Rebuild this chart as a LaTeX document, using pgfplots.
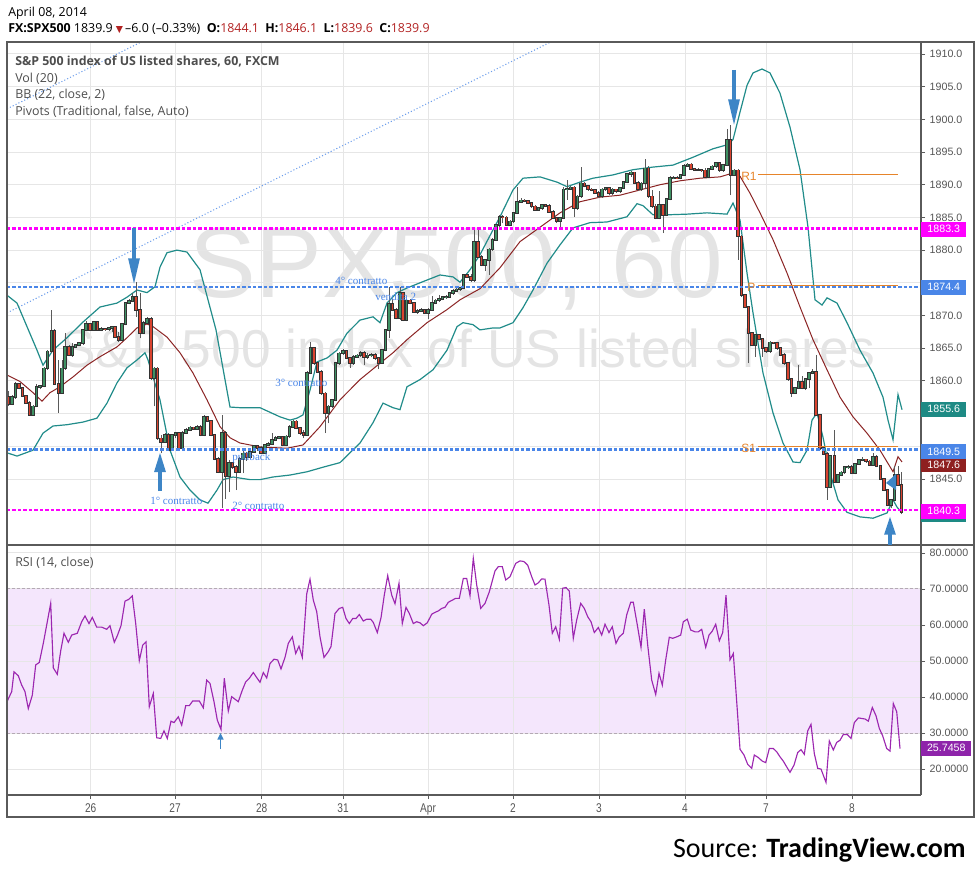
\documentclass[border=0pt]{standalone}
\usepackage{pgfplots}
\pgfplotsset{compat=1.18}
\usepackage{pgfplotstable}
\usepackage{fontspec}
\setmainfont{Open Sans}
\newfontfamily\arialfont{Liberation Sans}
\newfontfamily\narrowfont[FakeStretch=0.8]{Liberation Sans}
\newfontfamily\serifann{Liberation Serif}
\newfontfamily\calfont{Carlito}
\newfontfamily\symfont{DejaVu Sans}
\usetikzlibrary{arrows.meta}

\definecolor{gridc}{HTML}{E6E6E6}
\definecolor{framec}{HTML}{5A5A5A}
\definecolor{tickc}{HTML}{555555}
\definecolor{legc}{HTML}{4D4D4D}
\definecolor{upfill}{HTML}{3E9163}
\definecolor{downfill}{HTML}{D9432F}
\definecolor{candleout}{HTML}{333333}
\definecolor{wickc}{HTML}{5A5A5A}
\definecolor{bbc}{HTML}{218C8A}
\definecolor{smac}{HTML}{8B2424}
\definecolor{magc}{HTML}{FF00FF}
\definecolor{bluec}{HTML}{4A86E8}
\definecolor{pivc}{HTML}{E6842A}
\definecolor{rsic}{HTML}{9C27B0}
\definecolor{rsiband}{HTML}{F4E6FC}
\definecolor{rsidash}{HTML}{B4A8B4}
\definecolor{arrowc}{HTML}{3D85C6}
\definecolor{wmc}{HTML}{E4E4E4}
\definecolor{hdrred}{HTML}{B22222}
\definecolor{dotc}{HTML}{6D9EEB}
\definecolor{tealbox}{HTML}{1E8A84}
\definecolor{redbox}{HTML}{8E2020}
\definecolor{purpbox}{HTML}{8E24AA}

\pgfplotstableread{
x o h l c
8 1857.6 1858.4 1856.2 1856.5
12 1856.5 1857.9 1856.3 1857.6
15.5 1857.6 1859.9 1857.3 1859.5
19 1859.5 1859.7 1858.7 1858.9
22.5 1858.9 1859.0 1857.6 1857.7
26 1857.7 1857.9 1856.5 1856.6
29.5 1856.6 1857.0 1854.7 1854.8
33 1854.8 1856.3 1854.7 1856.1
36.5 1856.1 1859.6 1856.0 1859.1
40 1859.1 1859.4 1858.7 1859.2
44 1859.2 1862.2 1859.0 1861.9
47.5 1861.9 1864.7 1861.7 1864.5
51.5 1864.5 1870.9 1864.2 1867.6
54.5 1867.6 1867.9 1859.4 1859.5
58.5 1859.5 1863.2 1855.1 1858.2
62 1858.2 1863.2 1858.0 1861.9
65 1861.9 1867.4 1861.7 1865.2
69 1865.2 1865.5 1863.8 1864.0
72.5 1864.0 1865.8 1863.7 1865.2
75.5 1865.2 1865.7 1865.1 1865.5
79 1865.5 1865.9 1865.3 1865.8
83 1865.8 1868.0 1865.5 1867.8
86 1867.8 1869.1 1867.6 1868.7
90 1868.7 1868.9 1867.7 1867.8
94 1867.8 1869.2 1867.7 1869.0
97.5 1869.0 1869.2 1867.7 1867.8
101 1867.8 1868.2 1867.6 1868.0
105 1868.0 1868.1 1867.7 1867.9
109 1867.9 1868.3 1867.7 1868.1
112 1868.1 1868.3 1867.5 1868.2
115 1868.2 1868.3 1866.5 1866.7
118.5 1866.7 1867.5 1866.0 1866.3
122 1866.3 1868.9 1866.2 1868.7
125.5 1868.7 1872.1 1868.5 1871.9
129 1871.9 1872.5 1871.7 1872.2
132.5 1872.2 1873.4 1872.0 1872.9
136 1872.9 1875.2 1869.8 1870.9
140 1870.9 1873.4 1866.5 1867.4
143.5 1867.4 1869.1 1867.2 1868.9
147 1868.9 1869.8 1868.7 1869.5
151 1869.5 1869.7 1860.2 1860.4
154 1860.4 1862.2 1856.1 1861.9
157.5 1861.9 1862.1 1851.0 1851.2
161 1851.2 1851.7 1848.9 1850.7
165 1850.7 1852.0 1850.5 1851.8
168.5 1851.8 1852.0 1849.3 1849.5
172 1849.5 1851.9 1849.3 1851.7
175.5 1851.7 1852.2 1851.2 1852.0
179 1852.0 1852.2 1849.5 1849.7
182.5 1849.7 1852.3 1849.5 1852.1
186 1852.1 1852.8 1851.9 1852.5
190 1852.5 1853.1 1852.3 1852.9
193.5 1852.9 1853.0 1852.5 1852.7
197 1852.7 1853.3 1852.5 1853.0
200.5 1853.0 1853.2 1851.5 1851.7
204 1851.7 1854.8 1851.5 1854.5
207.5 1854.5 1854.7 1853.7 1853.9
211 1853.9 1854.0 1851.5 1851.7
214.5 1851.7 1851.9 1847.9 1848.1
218 1848.1 1848.3 1845.9 1846.1
222 1846.1 1854.8 1840.5 1852.1
225.5 1852.1 1852.3 1842.0 1845.4
229 1845.4 1847.9 1843.0 1847.4
232.5 1847.4 1847.6 1846.5 1846.9
236 1846.9 1847.1 1843.3 1846.1
239.5 1846.1 1848.3 1845.9 1848.1
243 1848.1 1849.6 1845.9 1848.9
246.5 1848.9 1849.2 1847.8 1848.3
250 1848.3 1849.5 1848.0 1849.2
254 1849.2 1850.2 1849.0 1850.0
257.5 1850.0 1850.2 1849.3 1849.8
261 1849.8 1850.0 1848.8 1849.0
265 1849.0 1850.4 1848.8 1850.2
268 1850.2 1850.6 1850.0 1850.4
272 1850.4 1852.0 1850.2 1851.0
275.5 1851.0 1851.5 1850.8 1851.3
279 1851.3 1851.6 1851.1 1851.4
282.5 1851.4 1851.6 1850.0 1850.2
286 1850.2 1851.7 1850.0 1851.5
289.5 1851.5 1853.2 1851.3 1853.0
293 1853.0 1854.0 1852.8 1853.8
296 1853.8 1854.0 1852.6 1852.8
300 1852.8 1853.0 1851.8 1852.0
303.5 1852.0 1852.5 1851.2 1851.8
307 1851.8 1861.5 1851.5 1861.2
310.5 1861.2 1865.9 1861.0 1865.0
314 1865.0 1865.2 1862.5 1862.7
317.5 1862.7 1862.9 1861.2 1861.4
321 1861.4 1861.6 1857.9 1858.1
325 1858.1 1858.3 1852.0 1855.1
328.5 1855.1 1856.3 1853.5 1856.1
332 1856.1 1857.3 1855.9 1857.1
335.5 1857.1 1862.9 1856.9 1862.7
339 1862.7 1864.4 1862.5 1864.2
343 1864.2 1864.9 1864.0 1864.6
346.5 1864.6 1864.8 1863.3 1863.5
350 1863.5 1863.7 1862.0 1862.7
353.5 1862.7 1863.9 1862.5 1863.7
357 1863.7 1864.1 1863.5 1863.9
360.5 1863.9 1864.5 1863.7 1864.3
364 1864.3 1864.5 1862.5 1863.7
367.5 1863.7 1864.3 1863.3 1863.9
371 1863.9 1864.3 1863.6 1864.0
375 1864.0 1864.2 1863.2 1863.5
378.5 1863.5 1863.7 1861.8 1862.8
382 1862.8 1864.9 1862.6 1864.7
385.5 1864.7 1868.0 1864.5 1867.8
389 1867.8 1874.4 1866.5 1871.8
392.5 1871.8 1872.6 1870.7 1870.9
396 1870.9 1871.1 1869.4 1869.6
400 1869.6 1874.4 1869.3 1873.4
403 1873.4 1873.6 1869.1 1869.3
406.5 1869.3 1872.5 1869.1 1872.3
410 1872.3 1872.5 1871.7 1871.9
414 1871.9 1872.1 1870.4 1870.6
417.5 1870.6 1871.0 1870.3 1870.7
421 1870.7 1871.1 1870.5 1870.8
424.5 1870.8 1871.0 1870.2 1870.4
428 1870.4 1871.2 1869.4 1870.9
432 1870.9 1873.0 1870.7 1871.9
435.5 1871.9 1872.5 1871.7 1872.3
439 1872.3 1873.2 1872.1 1872.5
442.5 1872.5 1873.0 1872.3 1872.8
446 1872.8 1873.1 1872.6 1872.9
449.5 1872.9 1873.6 1872.7 1873.4
453 1873.4 1874.0 1873.2 1873.8
456.5 1873.8 1874.5 1873.6 1874.0
460 1874.0 1874.4 1873.8 1874.2
463.5 1874.2 1876.4 1874.0 1876.2
467 1876.2 1876.4 1875.7 1875.9
471 1875.9 1876.4 1875.2 1875.4
474 1875.4 1883.1 1875.2 1881.3
478 1881.3 1883.3 1878.8 1879.0
481.5 1879.0 1879.2 1877.5 1877.7
485 1877.7 1878.7 1876.8 1878.5
489 1878.5 1880.3 1876.2 1880.1
492.5 1880.1 1881.8 1879.9 1881.6
496 1881.6 1884.0 1881.4 1883.8
499.5 1883.8 1885.3 1883.6 1885.1
502.7 1885.1 1885.4 1884.1 1885.0
506.5 1885.0 1885.2 1883.7 1883.9
510 1883.9 1884.6 1883.7 1884.4
513.5 1884.4 1885.9 1884.2 1885.7
517 1885.7 1889.7 1885.5 1887.4
521 1887.4 1887.9 1887.2 1887.6
524.5 1887.6 1887.8 1887.3 1887.5
528 1887.5 1887.7 1887.0 1887.2
531.5 1887.2 1887.4 1886.5 1886.7
535 1886.7 1886.9 1886.0 1886.2
538.5 1886.2 1886.6 1886.0 1886.4
542 1886.4 1887.1 1886.2 1886.9
545.5 1886.9 1887.0 1886.6 1886.8
549 1886.8 1887.0 1885.7 1885.9
553 1885.9 1886.1 1884.7 1884.9
556.5 1884.9 1885.1 1884.2 1884.4
560 1884.4 1885.1 1883.3 1884.9
563.5 1884.9 1889.7 1884.7 1889.3
567 1889.3 1890.7 1887.7 1889.4
570.5 1889.4 1889.8 1889.2 1889.6
574 1889.6 1889.8 1885.1 1886.4
577.5 1886.4 1888.4 1886.2 1888.2
581 1888.2 1892.7 1888.0 1890.2
584.5 1890.2 1890.4 1889.6 1889.8
588 1889.8 1890.0 1889.1 1889.3
591.5 1889.3 1889.5 1889.0 1889.2
595 1889.2 1889.4 1888.6 1888.8
598.5 1888.8 1889.0 1888.0 1888.2
602 1888.2 1889.5 1888.0 1889.3
605.5 1889.3 1889.7 1889.1 1889.5
609 1889.5 1889.6 1888.5 1888.7
612.5 1888.7 1889.5 1888.5 1889.3
616 1889.3 1889.4 1888.8 1889.0
620 1889.0 1889.7 1888.8 1889.5
623.5 1889.5 1890.6 1889.3 1890.4
627 1890.4 1891.8 1890.2 1891.6
631 1891.6 1892.1 1891.2 1891.9
634.5 1891.9 1892.0 1890.1 1890.3
638 1890.3 1890.5 1889.1 1889.3
641.5 1889.3 1890.4 1889.1 1890.2
645 1890.2 1893.9 1889.3 1892.5
648.5 1892.5 1892.8 1888.0 1888.2
652 1888.2 1889.2 1886.5 1886.7
655.5 1886.7 1887.0 1884.7 1884.9
659 1884.9 1889.0 1884.7 1886.9
663 1886.9 1887.1 1882.6 1885.4
666.5 1885.4 1888.0 1885.2 1887.8
670 1887.8 1891.3 1887.6 1891.0
673.5 1891.0 1891.3 1890.8 1891.1
677 1891.1 1891.3 1890.8 1891.0
680.5 1891.0 1891.7 1890.8 1891.5
684 1891.5 1893.1 1891.3 1892.9
687.5 1892.9 1893.3 1892.7 1893.1
691 1893.1 1893.3 1892.2 1892.4
694.5 1892.4 1892.5 1892.1 1892.3
698 1892.3 1892.5 1892.1 1892.3
701.5 1892.3 1892.4 1892.0 1892.2
705 1892.2 1892.6 1891.0 1891.2
708.5 1891.2 1892.6 1891.0 1892.4
712 1892.4 1893.0 1892.2 1892.8
716 1892.8 1893.5 1892.6 1893.3
719.5 1893.3 1893.5 1892.0 1892.2
723 1892.2 1893.2 1892.0 1893.0
727 1893.0 1898.5 1892.8 1896.9
730.5 1896.9 1899.1 1888.4 1891.5
734 1891.5 1892.4 1891.3 1892.2
738 1892.2 1892.4 1878.5 1882.1
741.5 1882.1 1882.3 1872.9 1873.1
745 1873.1 1873.3 1871.1 1871.3
748.5 1871.3 1871.5 1862.7 1867.3
752 1867.3 1867.5 1865.3 1865.5
755.5 1865.5 1867.2 1863.7 1867.0
759 1867.0 1867.2 1866.2 1866.4
762.5 1866.4 1866.6 1863.7 1865.0
766 1865.0 1865.2 1864.3 1864.5
770 1864.5 1866.1 1864.3 1865.9
773.5 1865.9 1866.0 1865.6 1865.8
777 1865.8 1866.0 1864.8 1865.0
780.5 1865.0 1865.2 1863.8 1864.0
784 1864.0 1864.2 1862.5 1862.7
788 1862.7 1862.9 1860.0 1860.3
791.5 1860.3 1860.5 1857.6 1858.2
795 1858.2 1859.1 1858.0 1858.9
798.5 1858.9 1862.4 1858.7 1859.9
802 1859.9 1860.7 1858.7 1858.9
805.5 1858.9 1860.5 1858.6 1860.3
809 1860.3 1861.4 1858.9 1861.2
812.5 1861.2 1861.8 1861.0 1861.4
816 1861.4 1864.0 1854.6 1854.8
820 1854.8 1855.0 1849.4 1849.7
823.5 1849.7 1849.9 1848.6 1848.8
827 1848.8 1849.2 1841.8 1843.8
830 1843.8 1848.7 1843.6 1848.5
834.5 1848.5 1852.5 1844.4 1844.6
838 1844.6 1845.8 1844.4 1845.6
841 1845.6 1846.2 1845.4 1846.0
844.5 1846.0 1847.0 1845.8 1846.8
848 1846.8 1847.1 1846.6 1846.9
851.5 1846.9 1847.1 1845.7 1845.9
855 1845.9 1847.5 1845.7 1847.3
859 1847.3 1848.1 1847.1 1847.9
862.5 1847.9 1848.4 1847.7 1848.0
866 1848.0 1848.1 1847.5 1847.7
869.5 1847.7 1847.9 1847.0 1847.2
873 1847.2 1848.9 1847.0 1848.4
876.5 1848.4 1848.6 1846.8 1847.0
880.5 1847.0 1847.2 1844.8 1845.0
884 1845.0 1845.2 1843.1 1843.3
887.5 1843.3 1843.5 1840.8 1841.0
891 1841.0 1842.0 1840.5 1841.8
894.5 1841.8 1847.0 1841.6 1845.6
898 1845.6 1847.0 1843.9 1844.1
901.5 1844.1 1846.1 1839.6 1839.9
}\candles

\pgfplotsset{
  panel/.style={
    scale only axis, width=685.5pt, xmin=7, xmax=921, anchor=south west,
    axis line style={draw=none},
    grid=major, major grid style={draw=gridc, line width=0.7pt},
    tick align=outside, major tick length=3pt,
    ytick pos=right, yticklabel pos=right,
    tick style={draw=framec, line width=0.6pt},
    xtick={90.7,175,261.7,343,428,513,599,685,766,852},
    y tick label style={font=\arialfont\fontsize{8}{9}\selectfont, text=tickc,
      /pgf/number format/assume math mode=true, /pgf/number format/1000 sep={},
      /pgf/number format/fixed, /pgf/number format/fixed zerofill},
  },
  candlebase/.style={draw=none, mark=none, forget plot},
}

\begin{document}
\begin{tikzpicture}
\begin{scope}[x=0.75pt,y=-0.75pt]
\path (0,0) rectangle (980,874);
\node[anchor=base, text=wmc, inner sep=0pt] at (456,297) {\arialfont\fontsize{75}{75}\selectfont SPX500, 60};
\node[anchor=base, text=wmc, inner sep=0pt] at (468,367) {\arialfont\fontsize{40}{40}\selectfont S\&P 500 index of US listed shares};
\end{scope}

% ---------------- price panel ----------------
\begin{axis}[panel, at={(5.25pt,-408.75pt)}, height=377.25pt,
  ymin=1834.9, ymax=1911.83, ytick={1845,1850,...,1910},
  yticklabels={1845.0,,,1860.0,1865.0,1870.0,,1880.0,1885.0,1890.0,1895.0,1900.0,1905.0,1910.0},
  xticklabels={}, xtick style={draw=none}]

\addplot[dotc, line width=0.8pt, dash pattern=on 0.8pt off 1.6pt] coordinates {(7,1870.4) (560,1912.54)};
\addplot[dotc, line width=0.8pt, dash pattern=on 0.8pt off 1.6pt] coordinates {(7,1901.6) (160,1913.26)};

% Bollinger bands (22, close, 2)
\addplot[bbc, line width=0.9pt] coordinates {(7,1873.1) (17,1871.9) (27,1868.3) (37,1864.7) (43,1862.4) (53,1864.7) (67,1866.6) (83,1869.0) (100,1871.3) (117,1871.9) (127,1872.8) (137,1873.9) (147,1873.5) (155,1874.4) (160,1877.4) (167,1879.6) (177,1880.0) (187,1879.7) (200,1877.0) (208,1872.4) (216,1867.8) (225,1860.2) (230,1856.0) (240,1855.9) (260,1855.9) (280,1854.5) (290,1854.0) (297,1854.3) (303,1854.8) (310,1858.6) (317,1862.9) (327,1863.5) (337,1864.7) (347,1867.3) (360,1869.3) (373,1869.8) (380,1868.9) (387,1871.9) (397,1873.5) (407,1874.2) (420,1875.0) (440,1876.2) (453,1875.9) (460,1875.1) (470,1877.0) (480,1879.3) (493,1883.1) (500,1885.1) (513,1889.2) (523,1891.0) (540,1891.2) (557,1890.4) (567,1889.7) (580,1890.4) (593,1891.0) (613,1891.5) (633,1892.3) (653,1892.7) (673,1893.0) (693,1894.2) (713,1895.5) (727,1896.1) (733,1896.9) (740,1901.1) (747,1905.2) (753,1907.1) (762,1907.7) (770,1907.1) (780,1904.0) (790,1898.8) (800,1892.3) (808,1883.5) (815,1872.4) (822,1871.6) (827,1872.7) (837,1871.9) (847,1868.9) (860,1864.7) (873,1861.2) (883,1857.5) (888,1854.0) (893,1851.0) (898,1857.9) (902,1855.6)};
\addplot[smac, line width=0.75pt] coordinates {(7,1860.9) (20,1859.9) (33,1858.2) (42,1856.9) (50,1858.2) (60,1859.1) (73,1860.6) (87,1862.4) (100,1863.7) (117,1865.2) (127,1866.6) (137,1868.1) (147,1868.7) (153,1868.3) (167,1866.7) (180,1864.3) (193,1861.2) (207,1857.1) (220,1853.0) (230,1851.3) (240,1850.5) (260,1849.9) (287,1849.7) (303,1850.2) (320,1853.0) (340,1857.1) (360,1860.2) (380,1862.7) (393,1864.3) (407,1866.3) (427,1868.9) (447,1870.9) (460,1872.4) (480,1874.1) (500,1877.3) (520,1881.3) (540,1883.5) (560,1885.7) (580,1887.4) (600,1888.1) (620,1888.4) (640,1889.2) (660,1890.0) (680,1890.6) (700,1891.0) (720,1891.2) (733,1891.8) (740,1891.3) (750,1888.7) (760,1885.7) (773,1881.6) (787,1876.5) (800,1871.3) (813,1866.3) (827,1861.7) (840,1857.5) (853,1854.5) (867,1852.0) (880,1849.4) (893,1846.1) (898,1848.4) (902,1847.6)};
\addplot[bbc, line width=0.9pt] coordinates {(7,1849.0) (17,1848.5) (33,1849.4) (43,1852.0) (53,1853.1) (67,1853.3) (83,1853.7) (97,1854.3) (107,1856.6) (117,1859.7) (127,1862.0) (137,1863.2) (145,1864.3) (148,1863.2) (153,1860.6) (160,1857.1) (170,1849.4) (180,1845.3) (190,1843.3) (200,1841.8) (208,1841.3) (217,1843.3) (223,1844.9) (233,1845.3) (250,1844.9) (260,1844.9) (273,1845.3) (290,1845.6) (307,1846.1) (323,1846.8) (340,1847.5) (350,1849.0) (360,1850.5) (373,1853.6) (383,1856.6) (393,1855.9) (400,1855.6) (407,1859.1) (420,1860.2) (433,1861.7) (447,1864.7) (457,1868.3) (463,1868.9) (473,1868.6) (480,1867.8) (493,1868.1) (500,1868.1) (513,1868.9) (523,1871.2) (533,1873.9) (547,1878.0) (560,1880.8) (573,1883.4) (590,1884.2) (607,1884.3) (627,1885.1) (637,1887.1) (643,1886.8) (653,1885.4) (667,1885.4) (687,1885.5) (707,1885.7) (727,1885.5) (733,1887.2) (740,1884.6) (747,1876.5) (753,1870.4) (763,1861.2) (773,1855.1) (783,1850.5) (793,1847.6) (800,1847.5) (807,1849.4) (812,1854.0) (817,1855.1) (823,1851.4) (830,1845.9) (838,1841.8) (847,1839.9) (860,1839.2) (873,1839.0) (887,1839.8) (893,1841.8) (897,1840.7) (902,1839.8)};

% candles: wicks
\addplot[candlebase, error bars/.cd, y dir=both, y explicit, error mark=none,
  error bar style={solid, line width=0.6pt, draw=wickc}]
  table[x=x, y=l, y error plus expr={\thisrow{h}-\thisrow{l}}, y error minus expr={0}] {\candles};
% up bodies
\addplot[candlebase, restrict expr to domain={\thisrow{c}-\thisrow{o}}{0:1000},
  error bars/.cd, y dir=both, y explicit, error mark=none, error bar style={solid, line width=2.5pt, draw=candleout}]
  table[x=x, y=o, y error plus expr={\thisrow{c}-\thisrow{o}+0.12}, y error minus expr={0.12}] {\candles};
\addplot[candlebase, restrict expr to domain={\thisrow{c}-\thisrow{o}}{0:1000},
  error bars/.cd, y dir=plus, y explicit, error mark=none, error bar style={solid, line width=1.3pt, draw=upfill}]
  table[x=x, y=o, y error plus expr={\thisrow{c}-\thisrow{o}}] {\candles};
% down bodies
\addplot[candlebase, restrict expr to domain={\thisrow{c}-\thisrow{o}}{-1000:-0.001},
  error bars/.cd, y dir=both, y explicit, error mark=none, error bar style={solid, line width=2.5pt, draw=candleout}]
  table[x=x, y=c, y error plus expr={\thisrow{o}-\thisrow{c}+0.12}, y error minus expr={0.12}] {\candles};
\addplot[candlebase, restrict expr to domain={\thisrow{c}-\thisrow{o}}{-1000:-0.001},
  error bars/.cd, y dir=plus, y explicit, error mark=none, error bar style={solid, line width=1.3pt, draw=downfill}]
  table[x=x, y=c, y error plus expr={\thisrow{o}-\thisrow{c}}] {\candles};

% pivots
\addplot[pivc, line width=0.8pt] coordinates {(758,1891.6) (898,1891.6)};
\addplot[pivc, line width=0.8pt] coordinates {(758,1874.6) (898,1874.6)};
\addplot[pivc, line width=0.8pt] coordinates {(758,1849.9) (898,1849.9)};

% horizontal levels
\addplot[magc, line width=1.6pt, dash pattern=on 2.6pt off 1.5pt] coordinates {(7,1883.3) (921,1883.3)};
\addplot[magc, line width=1.6pt, dash pattern=on 2.6pt off 1.5pt] coordinates {(7,1840.3) (921,1840.3)};
\addplot[bluec, line width=1.6pt, dash pattern=on 2.6pt off 1.5pt] coordinates {(7,1874.4) (921,1874.4)};
\addplot[bluec, line width=1.6pt, dash pattern=on 2.6pt off 1.5pt] coordinates {(7,1849.5) (921,1849.5)};
\end{axis}

% ---------------- RSI panel ----------------
\begin{axis}[panel, set layers, at={(5.25pt,-596.25pt)}, height=187.5pt,
  ymin=12.8, ymax=82.2, ytick={20,30,...,80},
  xtick pos=bottom,
  xticklabels={26,27,28,31,Apr,2,3,4,7,8},
  x tick label style={font=\narrowfont\fontsize{9.5}{10}\selectfont, text=tickc},
  y tick label style={/pgf/number format/precision=4}]
\begin{pgfonlayer}{axis background}
\fill[rsiband] (axis cs:7,30) rectangle (axis cs:921,70);
\end{pgfonlayer}
\addplot[rsidash, line width=0.8pt, dash pattern=on 2.2pt off 1.5pt] coordinates {(7,70) (921,70)};
\addplot[rsidash, line width=0.8pt, dash pattern=on 2.2pt off 1.5pt] coordinates {(7,30) (921,30)};
\addplot[rsic, line width=0.85pt] coordinates {(7.3,38.9) (11.7,41.5) (14,47.0) (18.3,45.9) (21.7,43.3) (25,41.5) (28.3,36.8) (32.3,40.5) (35.7,48.9) (39.3,49.6) (43.3,54.9) (46.7,60.0) (50.7,66.0) (53.3,48.1) (57.3,46.3) (60.7,52.8) (64,57.7) (68.3,55.2) (71.7,57.2) (77.3,57.7) (81.7,60.9) (85,62.5) (89,60.4) (92.3,62.1) (96.7,59.4) (101.7,59.4) (106.7,58.8) (110,59.8) (114.3,55.2) (117.3,57.0) (121,59.8) (125,66.6) (128.7,67.1) (132.3,68.1) (135.7,60.4) (139.3,50.1) (142.7,54.4) (146,55.3) (149.3,37.3) (153.3,41.0) (156.7,28.7) (160.7,28.5) (164,30.6) (167.3,28.5) (171,33.3) (174,32.9) (178.3,34.5) (181.7,32.2) (185.7,37.6) (189.3,37.6) (192.7,38.9) (199.3,38.9) (203.3,37.0) (206.7,44.7) (210,43.8) (214,38.7) (217.3,33.6) (221,31.0) (224.3,45.2) (228.3,36.1) (231.7,40.1) (235,39.4) (238.3,38.7) (242.3,41.9) (245.7,44.2) (249.3,45.2) (253.3,46.8) (256.7,45.4) (260,44.1) (263.3,46.8) (266.7,45.3) (270,49.3) (274,50.5) (277.7,50.3) (281,47.8) (285,51.0) (288.3,54.9) (292.3,56.7) (295.7,52.1) (299,54.1) (302.3,51.0) (306.7,68.6) (310,72.7) (313.3,66.9) (316.7,63.7) (320,56.7) (324,51.0) (328.3,52.6) (331,54.0) (335,63.2) (339.3,64.6) (342.7,64.9) (346,61.8) (349.3,60.4) (352.7,61.8) (356,61.8) (359.3,62.9) (363.3,61.1) (366.7,61.6) (370.7,61.6) (373.3,60.7) (377.3,57.9) (381,62.0) (384.3,68.3) (387.7,73.7) (391.7,68.3) (395,65.9) (399,71.6) (402.3,60.4) (406,64.9) (409.3,63.2) (413.3,60.4) (416.7,60.9) (420,60.6) (423.3,59.8) (427.3,60.6) (431.7,63.0) (435,63.5) (438.3,63.9) (441.7,64.6) (445,64.9) (448.3,66.3) (452.3,66.9) (455.7,67.4) (459.3,67.4) (463.3,72.9) (466.7,72.9) (470,68.1) (473.3,78.5) (476.7,71.1) (480.7,64.6) (485,66.0) (489.3,69.2) (495,75.0) (498.3,76.2) (502.3,76.2) (505.7,72.5) (510,73.4) (515.7,77.1) (520,77.8) (524,77.6) (527.7,76.6) (531.7,73.4) (535,71.1) (538.3,71.7) (541.7,72.8) (545,72.7) (549,65.5) (552.3,57.7) (555.7,59.5) (559.3,56.0) (562.7,70.2) (566,70.4) (569.3,69.4) (573.3,56.3) (576.7,61.4) (580.7,66.0) (584.3,64.6) (587.7,62.3) (591,60.9) (594.3,57.9) (598.3,59.3) (601.7,57.2) (605,60.2) (609,57.9) (612.3,59.5) (616,54.9) (619.3,56.7) (623.3,57.7) (626.7,62.8) (630.7,66.3) (633.3,66.3) (637.3,60.0) (641,53.8) (644.3,64.4) (647.7,54.4) (651.7,44.7) (655.7,40.7) (659,46.6) (662.3,43.3) (665.7,50.3) (669.3,56.6) (672.7,56.3) (676.7,56.7) (680.7,57.2) (683.3,60.9) (687.3,61.6) (690.7,58.6) (695,58.1) (698.3,58.1) (701.7,58.8) (705.7,53.8) (709,57.2) (712.3,58.3) (715.7,60.2) (719.3,55.6) (722.7,57.9) (726,68.3) (730,50.3) (733.3,52.1) (736.7,38.7) (740,25.5) (744,23.9) (747.7,21.3) (751.7,20.2) (754.3,23.9) (758.3,23.2) (762.3,22.2) (765.7,21.8) (769.3,25.7) (773.3,25.7) (776.7,24.8) (780,23.4) (783.3,22.2) (786.7,20.6) (790,19.1) (794,21.1) (797.7,24.6) (801,25.4) (804.3,24.1) (807.7,30.6) (811,32.4) (814.3,24.3) (817.7,20.2) (821,20.0) (826,16.3) (829.3,27.8) (833.3,25.3) (836.7,27.4) (840,28.0) (843.3,29.6) (847.3,29.6) (851,28.5) (854.3,32.9) (858.3,34.2) (865,33.9) (868.3,33.3) (872.3,37.1) (876,34.8) (879.3,31.3) (882.7,29.2) (886.7,25.7) (890,25.0) (893.3,38.2) (896.7,35.9) (900,25.7)};
\end{axis}

% ---------------- frame, labels, annotations ----------------
\begin{scope}[x=0.75pt,y=-0.75pt]
\draw[framec, line width=0.8pt] (7,42) rectangle (974,817);
\draw[framec, line width=0.8pt] (921,42) -- (921,795);
\draw[framec, line width=0.8pt] (7,545) -- (974,545);
\draw[framec, line width=0.8pt] (7,795) -- (921,795);

\tikzset{lbl/.style={inner sep=0pt, anchor=west, minimum width=33.75pt, minimum height=11.25pt, text=white, font=\arialfont\fontsize{8}{9}\selectfont}}
\node[lbl, fill=magc] at (921,229) {1883.3};
\node[lbl, fill=bluec] at (921,287) {1874.4};
\node[lbl, fill=tealbox] at (921,409) {1855.6};
\node[lbl, fill=redbox] at (921,464.5) {1847.6};
\node[lbl, fill=bluec] at (921,451.5) {1849.5};
\fill[tealbox] (921,506) rectangle (966,521.5);
\node[lbl, fill=magc] at (921,511) {1840.3};
\node[lbl, fill=purpbox, minimum width=37.5pt] at (921,748) {25.7458};

% header
\node[anchor=base west, inner sep=0pt] at (8,17) {\fontsize{9.3}{11}\selectfont April 08, 2014};
\node[anchor=base west, inner sep=0pt] at (8,33) {\fontsize{9.3}{11}\selectfont\textbf{FX:SPX500}\ 1839.9 {\symfont\fontsize{7}{8}\selectfont\color{hdrred}▼}\,–6.0 (–0.33\%)\ \ \textbf{O:}\textcolor{hdrred}{1844.1}\ \ \textbf{H:}\textcolor{hdrred}{1846.1}\ \ \textbf{L:}\textcolor{hdrred}{1839.6}\ \ \textbf{C:}\textcolor{hdrred}{1839.9}};

% legend
\node[anchor=base west, inner sep=0pt, text=legc] at (15,65) {\fontsize{9.3}{11}\selectfont\bfseries S\&P 500 index of US listed shares, 60, FXCM};
\node[anchor=base west, inner sep=0pt, text=legc] at (15,82) {\fontsize{9.3}{11}\selectfont Vol (20)};
\node[anchor=base west, inner sep=0pt, text=legc] at (15,98.5) {\fontsize{9.3}{11}\selectfont BB (22, close, 2)};
\node[anchor=base west, inner sep=0pt, text=legc] at (15,115) {\fontsize{9.3}{11}\selectfont Pivots (Traditional, false, Auto)};
\node[anchor=base west, inner sep=0pt, text=legc] at (15,566) {\fontsize{9.3}{11}\selectfont RSI (14, close)};

% pivot labels
\node[anchor=west, inner sep=0pt, text=pivc, font=\arialfont\fontsize{9}{10}\selectfont] at (741,176) {R1};
\node[anchor=west, inner sep=0pt, text=pivc, font=\arialfont\fontsize{9}{10}\selectfont] at (747,287) {P};
\node[anchor=west, inner sep=0pt, text=pivc, font=\arialfont\fontsize{9}{10}\selectfont] at (741,448) {S1};

% annotations
\tikzset{ann/.style={anchor=west, inner sep=0pt, text=bluec, font=\serifann\fontsize{8.3}{9}\selectfont}}
\node[ann] at (150,500.5) {1° contratto};
\node[ann] at (232,506) {2° contratto};
\node[ann] at (232,458) {pullback};
\node[ann] at (275,383) {3° contratto};
\node[ann] at (335,281) {4° contratto};
\node[ann] at (375,296.5) {vendita 2};

% arrows
\tikzset{barrow/.style={draw=arrowc, line width=2.8pt, -{Triangle[length=20pt, width=8pt]}}}
\draw[barrow] (134,228) -- (134,285);
\draw[barrow] (734,70) -- (734,126);
\draw[barrow, -{Triangle[length=15pt, width=8pt]}] (160,491) -- (160,452);
\draw[barrow, -{Triangle[length=14pt, width=8pt]}] (890,545) -- (890,516);
\fill[arrowc] (886,483) -- (896,474) -- (896,490) -- cycle;
\draw[draw=arrowc, line width=1.1pt, -{Triangle[length=5pt, width=4.5pt]}] (220.5,749) -- (220.5,733);

% source
\node[anchor=base east, inner sep=0pt] at (966,857) {\calfont\fontsize{21}{24}\selectfont Source: \textbf{TradingView.com}};
\end{scope}
\end{tikzpicture}
\end{document}
